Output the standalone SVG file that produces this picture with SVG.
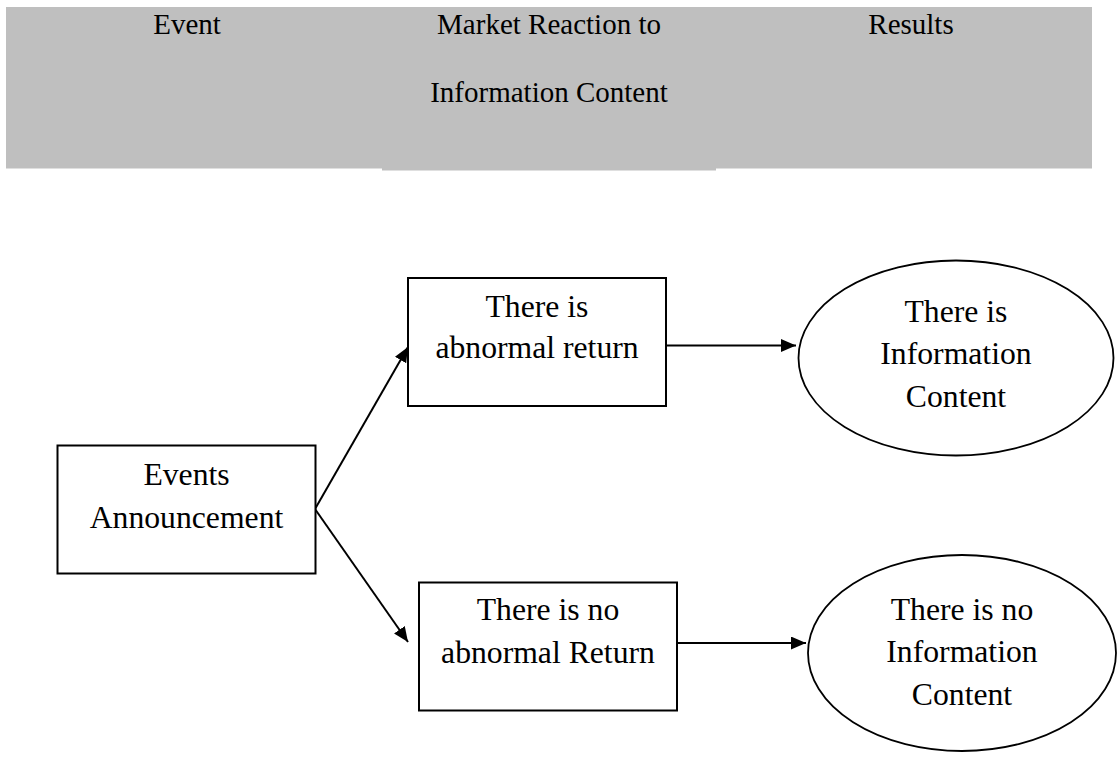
<svg xmlns="http://www.w3.org/2000/svg" width="1117" height="767" viewBox="0 0 1117 767">
<style>
.hdr{font-family:"Liberation Serif","Times New Roman",serif;font-size:29px;fill:#000;text-anchor:middle}
.lbl{font-family:"Liberation Serif","Times New Roman",serif;font-size:31.7px;fill:#000;text-anchor:middle}
.box{fill:#fff;stroke:#000;stroke-width:2}
.ell{fill:#fff;stroke:#000;stroke-width:1.8}
.conn{stroke:#000;stroke-width:2;fill:none;marker-end:url(#arr)}
</style>
<defs>
<marker id="arr" markerUnits="userSpaceOnUse" markerWidth="16" markerHeight="14" refX="15" refY="6.5" orient="auto">
<path d="M0,0 L15,6.5 L0,13 z" fill="#000"/>
</marker>
</defs>
<rect width="1117" height="767" fill="#fff"/>
<g id="header">
<rect x="6" y="7" width="1086" height="161.5" fill="#bfbfbf"/>
<rect x="382" y="167" width="334" height="3.5" fill="#bfbfbf"/>
<text class="hdr" x="187" y="34">Event</text>
<text class="hdr" x="549" y="34">Market Reaction to</text>
<text class="hdr" x="549" y="101.5">Information Content</text>
<text class="hdr" x="911" y="34">Results</text>
</g>
<g id="connectors">
<line class="conn" x1="315" y1="509" x2="408" y2="347"/>
<line class="conn" x1="315" y1="509" x2="408" y2="642"/>
<line class="conn" x1="666" y1="345.5" x2="796" y2="345.5"/>
<line class="conn" x1="677" y1="643" x2="806" y2="643"/>
</g>
<g id="events-announcement">
<rect class="box" x="57.5" y="445.5" width="258" height="128"/>
<text class="lbl" x="186.5" y="485">Events</text>
<text class="lbl" x="186.5" y="528">Announcement</text>
</g>
<g id="abnormal-return">
<rect class="box" x="408" y="278" width="258" height="128"/>
<text class="lbl" x="537" y="317">There is</text>
<text class="lbl" x="537" y="358">abnormal return</text>
</g>
<g id="no-abnormal-return">
<rect class="box" x="419" y="582.5" width="258" height="128"/>
<text class="lbl" x="548" y="620">There is no</text>
<text class="lbl" x="548" y="663">abnormal Return</text>
</g>
<g id="information-content">
<ellipse class="ell" cx="956" cy="358" rx="157.5" ry="97.5"/>
<text class="lbl" x="956" y="321.5">There is</text>
<text class="lbl" x="956" y="363.5">Information</text>
<text class="lbl" x="956" y="406.5">Content</text>
</g>
<g id="no-information-content">
<ellipse class="ell" cx="962" cy="653" rx="154" ry="98"/>
<text class="lbl" x="962" y="620">There is no</text>
<text class="lbl" x="962" y="662">Information</text>
<text class="lbl" x="962" y="705">Content</text>
</g>
</svg>
